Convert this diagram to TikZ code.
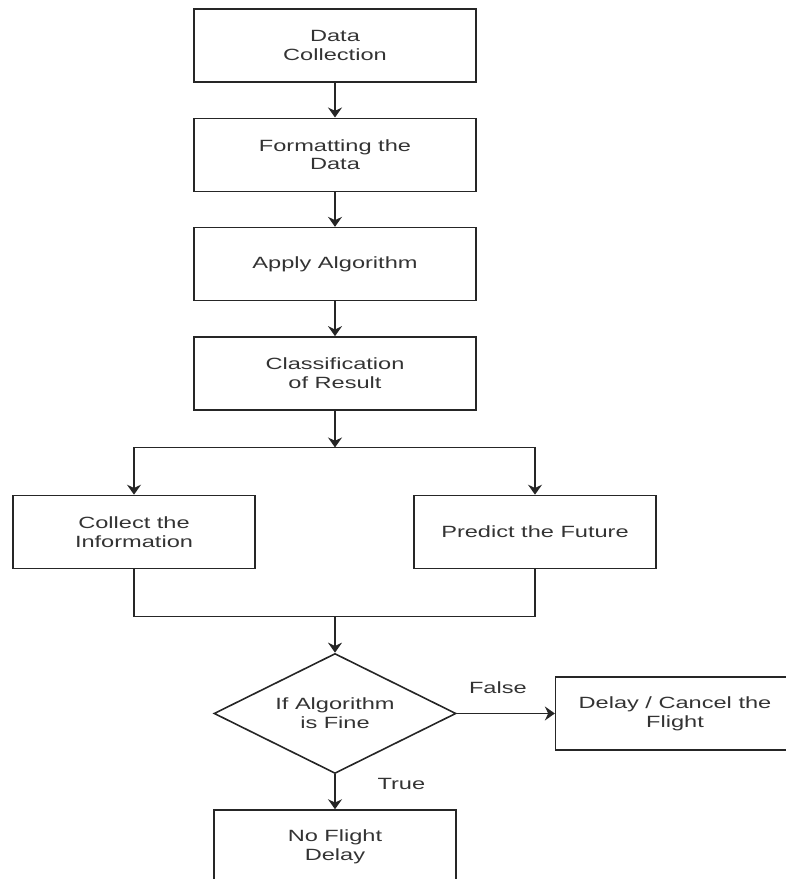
\documentclass[tikz,border=0pt]{standalone}
\usepackage{fontspec}
\setmainfont{Liberation Sans}[FakeStretch=1.45]
\usepackage{tikz}
\usetikzlibrary{shapes.geometric, arrows.meta}
\tikzstyle{block} = [rectangle, minimum width=211.5pt, minimum height=54.75pt, text centered, align=center, draw=black!85, line width=1.2pt, text=black!80]
\tikzstyle{sidebox} = [block, minimum width=181.5pt]
\tikzstyle{decision} = [diamond, aspect=2, minimum width=181.5pt, minimum height=90pt, inner sep=0pt, text centered, align=center, draw=black!85, line width=1.2pt, text=black!80]
\tikzstyle{line} = [line width=1.2pt, draw=black!85]
\tikzstyle{arrow} = [line, -{Stealth[length=7.5pt, width=10.5pt, inset=2.5pt]}]
\tikzstyle{label} = [text=black!80]

\begin{document}
\begin{tikzpicture}[node distance=82pt, font=\fontsize{12.2pt}{14pt}\selectfont]
\useasboundingbox (0,0) rectangle (589.5pt,-659.25pt);

% Nodes
\node (collect) [block] at (251.25pt,-34.1pt) {Data\\Collection};
\node (format) [block, below of=collect] {Formatting the\\Data};
\node (apply) [block, below of=format] {Apply Algorithm};
\node (classify) [block, below of=apply] {Classification\\of Result};
\node (info) [sidebox, below of=classify, xshift=-150.75pt, yshift=-36.9pt] {Collect the\\Information};
\node (predict) [sidebox, below of=classify, xshift=150pt, yshift=-36.9pt] {Predict the Future};
\node (decide) [decision, below of=classify, yshift=-173pt] {If Algorithm\\is Fine};
\node (delay) [block, minimum width=179pt, right of=decide, xshift=173pt] {Delay / Cancel the\\Flight};
\node (nodelay) [sidebox, below of=decide, yshift=-17.8pt] {No Flight\\Delay};

% Junctions
\coordinate (split) at ([yshift=-55.5pt]classify.center);
\coordinate (merge) at ([yshift=72.75pt]decide.center);

% Arrows
\draw [arrow] (collect) -- (format);
\draw [arrow] (format) -- (apply);
\draw [arrow] (apply) -- (classify);
\draw [arrow] (classify) -- (split);
\draw [arrow] (split) -| (info);
\draw [arrow] (split) -| (predict);
\draw [line] (info.south) |- (merge);
\draw [line] (predict.south) |- (merge);
\draw [arrow] (merge) -- (decide);
\draw [arrow] (decide) -- node[label, above=11pt, xshift=-6pt] {False} (delay);
\draw [arrow] (decide) -- node[label, pos=0.27, anchor=west, xshift=28pt] {True} (nodelay);

\end{tikzpicture}
\end{document}
